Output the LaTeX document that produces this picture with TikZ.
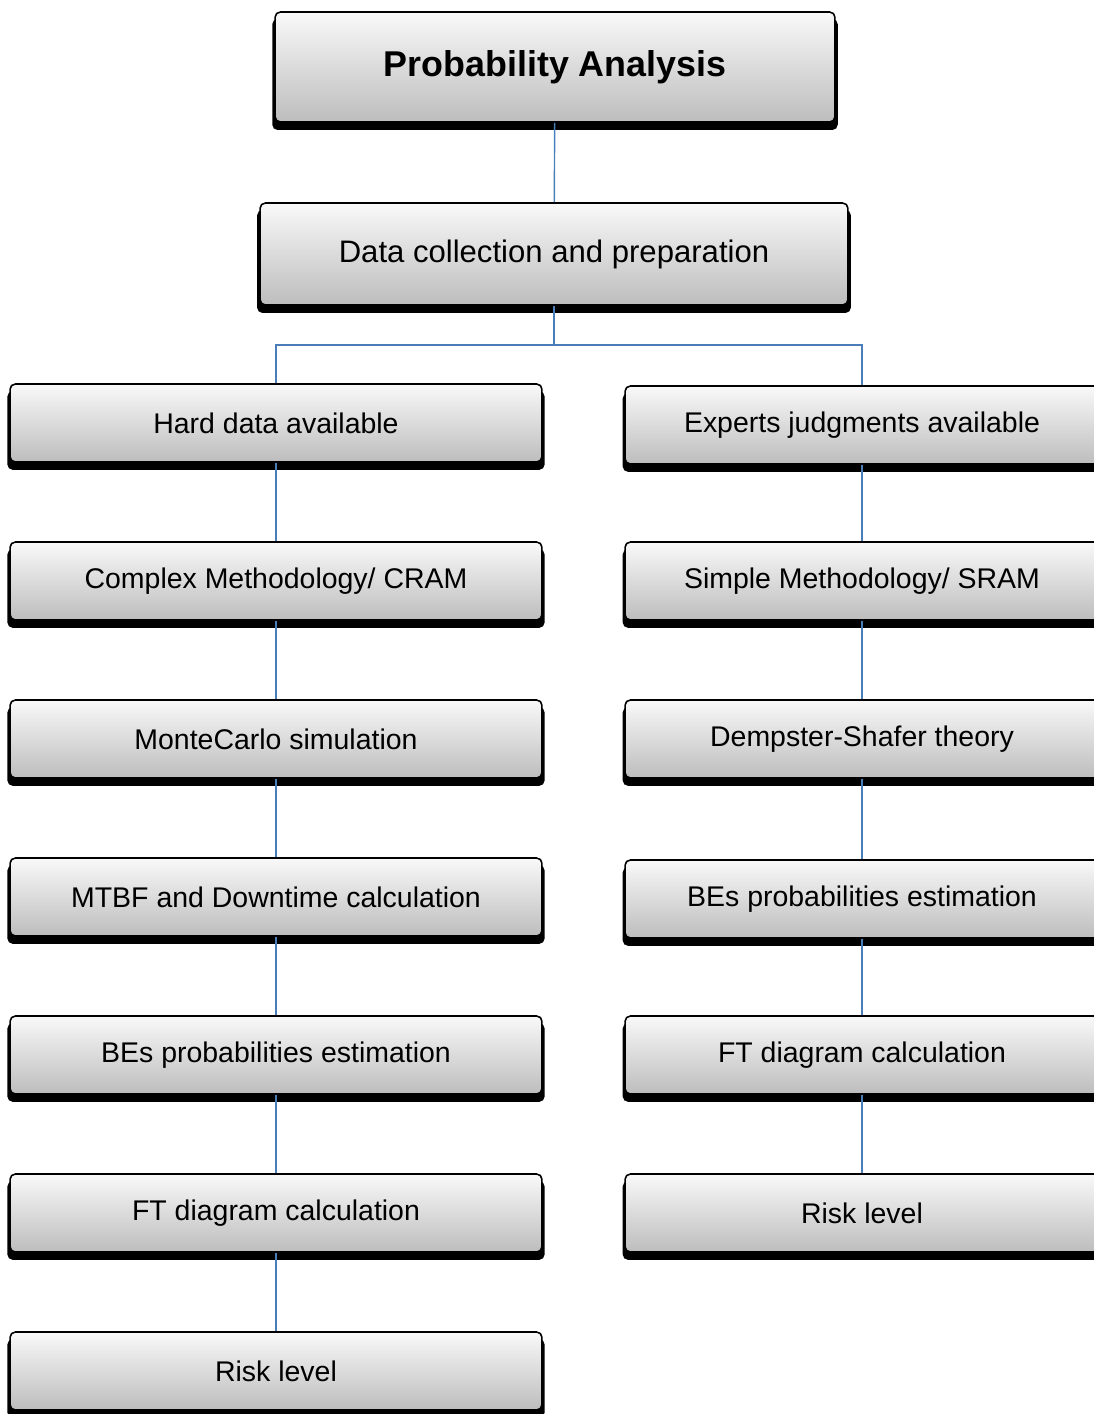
\documentclass[tikz,border=0pt]{standalone}
\usepackage{fontspec}
\setmainfont{Liberation Sans}
\usetikzlibrary{shadows}
\definecolor{paLink}{HTML}{4A7EBB}
\definecolor{paTop}{HTML}{F9F9F9}
\definecolor{paBottom}{HTML}{BDBDBD}
\tikzset{
  paBox/.style={draw=black,line width=0.9pt,rounded corners=3pt,
    top color=paTop,bottom color=paBottom,
    general shadow={fill=black,shadow scale=1.01,shadow yshift=-4.2pt},
    minimum width=10.64cm,minimum height=1.56cm,
    font=\fontsize{16.2}{19}\selectfont,align=center,inner sep=0pt},
  paHead/.style={paBox,minimum width=11.2cm,minimum height=2.2cm,
    font=\bfseries\fontsize{20.4}{24}\selectfont},
  paData/.style={paBox,minimum width=11.76cm,minimum height=2.04cm,
    font=\fontsize{17.7}{21}\selectfont},
  paLine/.style={draw=paLink,line width=0.8pt}
}
\begin{document}
\begin{tikzpicture}[x=0.02cm,y=-0.02cm]
\path[use as bounding box] (0,0) rectangle (1094,1414);
\clip (0,0) rectangle (1094,1414);
% head and data
\node[paHead] (prob) at (555,67) {Probability Analysis};
\node[paData] (data) at (554,254) {Data collection and preparation};
% hard data branch
\node[paBox] (hard) at (276,423) {Hard data available};
\node[paBox] (cram) at (276,581) {Complex Methodology/ CRAM};
\node[paBox] (monte) at (276,739) {MonteCarlo simulation};
\node[paBox] (mtbf) at (276,897) {MTBF and Downtime calculation};
\node[paBox] (beL) at (276,1055) {BEs probabilities estimation};
\node[paBox] (ftL) at (276,1213) {FT diagram calculation};
\node[paBox] (riskL) at (276,1371) {Risk level};
% experts branch
\node[paBox,minimum width=9.48cm] (expert) at (862,425) {Experts judgments available};
\node[paBox,minimum width=9.48cm] (sram) at (862,581) {Simple Methodology/ SRAM};
\node[paBox,minimum width=9.48cm] (dst) at (862,739) {Dempster-Shafer theory};
\node[paBox,minimum width=9.48cm] (beR) at (862,899) {BEs probabilities estimation};
\node[paBox,minimum width=9.48cm] (ftR) at (862,1055) {FT diagram calculation};
\node[paBox,minimum width=9.48cm] (riskR) at (862,1213) {Risk level};
% connectors
\coordinate (split) at (554,345);
\draw[paLine] (prob) -- (data);
\draw[paLine] (data) -- (split);
\draw[paLine] (split) -| (hard);
\draw[paLine] (split) -| (expert);
\draw[paLine] (hard) -- (cram);
\draw[paLine] (cram) -- (monte);
\draw[paLine] (monte) -- (mtbf);
\draw[paLine] (mtbf) -- (beL);
\draw[paLine] (beL) -- (ftL);
\draw[paLine] (ftL) -- (riskL);
\draw[paLine] (expert) -- (sram);
\draw[paLine] (sram) -- (dst);
\draw[paLine] (dst) -- (beR);
\draw[paLine] (beR) -- (ftR);
\draw[paLine] (ftR) -- (riskR);
\end{tikzpicture}
\end{document}
